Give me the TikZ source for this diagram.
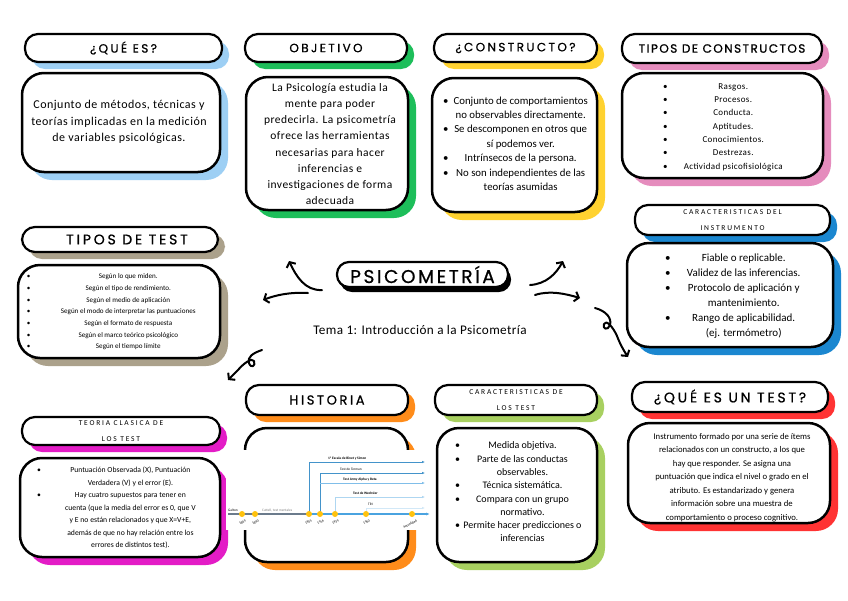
\documentclass[tikz,border=0pt]{standalone}
\usepackage{fontspec}
\setmainfont{Carlito}
\newfontfamily\titlefont[LetterSpace=20,FakeBold=0.8]{Poppins}
\newfontfamily\titlefontb[LetterSpace=12,FakeBold=0.8]{Poppins}
\newfontfamily\bigtitlefont[LetterSpace=14,FakeBold=0.8]{Poppins}
\newfontfamily\capsfont[LetterSpace=24]{Carlito}
\usetikzlibrary{shadows,arrows.meta}
\definecolor{cqes}{HTML}{9DCFF4}
\definecolor{cobj}{HTML}{1DBE5A}
\definecolor{ccon}{HTML}{FFD230}
\definecolor{ctip}{HTML}{E58CBD}
\definecolor{ctest}{HTML}{ABA18B}
\definecolor{cins}{HTML}{1B87D0}
\definecolor{cteo}{HTML}{E31CC6}
\definecolor{chis}{HTML}{FF8C1A}
\definecolor{ccar}{HTML}{A8D060}
\definecolor{cque}{HTML}{FF3333}
\definecolor{tlgray}{HTML}{6B7B8C}
\definecolor{tlblue}{HTML}{4AA3E0}
\definecolor{tldot}{HTML}{FFC20E}
\newcommand\bitem[2]{\hbox to #1{\textbullet\hfil #2\hfil}}
\newcommand\bcont[2]{\hbox to #1{\phantom{\textbullet}\hfil #2\hfil}}
\tikzset{
  pill/.style={draw, line width=2.2pt, rounded corners=13pt, fill=white, inner sep=0pt, align=center,
    drop shadow={shadow xshift=7pt, shadow yshift=-7pt, fill=#1, opacity=1}},
  panel/.style={draw, line width=2.5pt, rounded corners=22pt, fill=white, inner sep=0pt,
    drop shadow={shadow xshift=8pt, shadow yshift=-8pt, fill=#1, opacity=1}},
  ttl/.style={font=\titlefont\fontsize{12}{14}\selectfont},
  ttlb/.style={font=\titlefont\fontsize{14}{16}\selectfont},
  capttl/.style={font=\capsfont\fontsize{7.5}{16}\selectfont},
  bodytxt/.style={align=center, inner sep=0pt},
  curvy/.style={line width=2pt, line cap=round, line join=round, -{Straight Barb[length=4pt,width=10pt,line width=2pt]}},
  tlab/.style={inner sep=0pt, font=\fontsize{3.5}{4}\selectfont}
}
\begin{document}
\begin{tikzpicture}[x=1pt,y=-1pt]
\useasboundingbox[fill=white] (0,0) rectangle (848,600);

% ---- ¿QUÉ ES?
\node[pill=cqes, minimum width=197pt, minimum height=28pt, ttl] (p1) at (123.5,48) {¿QUÉ ES?};
\node[panel=cqes, minimum width=198pt, minimum height=99pt] (b1) at (121,122.5) {};
\node[bodytxt, font=\fontsize{12}{16.5}\selectfont\addfontfeatures{LetterSpace=4}] (t1) at (119,122) {Conjunto de métodos, técnicas y\\teorías implicadas en la medición\\de variables psicológicas.};

% ---- OBJETIVO
\node[pill=cobj, minimum width=162pt, minimum height=28pt, ttl] (p2) at (326,48) {OBJETIVO};
\node[panel=cobj, minimum width=162pt, minimum height=133pt] (b2) at (327,143.5) {};
\node[bodytxt, font=\fontsize{11.5}{16.1}\selectfont\addfontfeatures{LetterSpace=4}] (t2) at (330,144) {La Psicología estudia la\\mente para poder\\predecirla. La psicometría\\ofrece las herramientas\\necesarias para hacer\\inferencias e\\investigaciones de forma\\adecuada};

% ---- ¿CONSTRUCTO?
\node[pill=ccon, minimum width=163pt, minimum height=28pt, ttl] (p3) at (515.5,48) {¿CONSTRUCTO?};
\node[panel=ccon, minimum width=165pt, minimum height=134pt] (b3) at (514.5,145) {};
\node[bodytxt, font=\fontsize{10.8}{14.4}\selectfont] (t3) at (518,143.5) {\bitem{150pt}{Conjunto de comportamientos}\\\bcont{150pt}{no observables directamente.}\\\bitem{150pt}{Se descomponen en otros que}\\\bcont{150pt}{sí podemos ver.}\\\bitem{150pt}{Intrínsecos de la persona.}\\\bitem{150pt}{No son independientes de las}\\\bcont{150pt}{teorías asumidas}};

% ---- TIPOS DE CONSTRUCTOS
\node[pill=ctip, minimum width=200pt, minimum height=29pt, font=\titlefontb\fontsize{12}{14}\selectfont] (p4) at (722,48.5) {TIPOS DE CONSTRUCTOS};
\node[panel=ctip, minimum width=201pt, minimum height=105pt] (b4) at (722.5,125.5) {};
\node[bodytxt, font=\fontsize{9}{13.3}\selectfont\addfontfeatures{LetterSpace=4}] (t4) at (731,127) {\bitem{136pt}{Rasgos.}\\\bitem{136pt}{Procesos.}\\\bitem{136pt}{Conducta.}\\\bitem{136pt}{Aptitudes.}\\\bitem{136pt}{Conocimientos.}\\\bitem{136pt}{Destrezas.}\\\bitem{136pt}{Actividad psicofisiológica}};

% ---- TIPOS DE TEST
\node[pill=ctest, minimum width=196pt, minimum height=25pt, ttlb] (p5) at (120,239.5) {\hspace*{14pt}TIPOS DE TEST};
\node[panel=ctest, minimum width=202pt, minimum height=93pt] (b5) at (119,311.5) {};
\node[bodytxt, font=\fontsize{7.1}{11.7}\selectfont] (t5) at (126.5,312) {\bitem{199pt}{Según lo que miden.}\\\bitem{199pt}{Según el tipo de rendimiento.}\\\bitem{199pt}{Según el medio de aplicación}\\\bitem{199pt}{Según el modo de interpretar las puntuaciones}\\\bitem{199pt}{Según el formato de respuesta}\\\bitem{199pt}{Según el marco teórico psicológico}\\\bitem{199pt}{Según el tiempo límite}};

% ---- PSICOMETRÍA (centre)
\node[draw, line width=2.2pt, rounded corners=12pt, fill=white, inner sep=0pt,
      minimum width=171pt, minimum height=25pt,
      drop shadow={shadow xshift=3pt, shadow yshift=-5pt, fill=black, opacity=1},
      font=\bigtitlefont\fontsize{18.5}{20}\selectfont] (pc) at (422.5,274.5) {PSICOMETRÍA};
\node[bodytxt, font=\fontsize{13.2}{15}\selectfont\addfontfeatures{LetterSpace=3}] (sub) at (420,330) {Tema 1: Introducción a la Psicometría};

% ---- CARACTERISTICAS DEL INSTRUMENTO
\node[pill=cins, minimum width=195pt, minimum height=30pt, capttl] (p6) at (732.5,220) {CARACTERISTICAS DEL\\INSTRUMENTO};
\node[panel=cins, minimum width=206pt, minimum height=104pt] (b6) at (730,295) {};
\node[bodytxt, font=\fontsize{11}{15}\selectfont] (t6) at (741,296) {\bitem{152pt}{Fiable o replicable.}\\\bitem{152pt}{Validez de las inferencias.}\\\bitem{152pt}{Protocolo de aplicación y}\\\bcont{152pt}{mantenimiento.}\\\bitem{152pt}{Rango de aplicabilidad.}\\\bcont{152pt}{(ej. termómetro)}};

% ---- TEORIA CLASICA DE LOS TEST
\node[pill=cteo, minimum width=198pt, minimum height=28pt, capttl] (p7) at (121,431) {TEORIA CLASICA DE\\LOS TEST};
\node[panel=cteo, minimum width=200pt, minimum height=99pt] (b7) at (120,507.5) {};
\node[bodytxt, font=\fontsize{7.7}{12.5}\selectfont] (t7) at (128.5,508) {\bitem{183pt}{Puntuación Observada (X), Puntuación}\\\bcont{183pt}{Verdadera (V) y el error (E).}\\\bitem{183pt}{Hay cuatro supuestos para tener en}\\\bcont{183pt}{cuenta (que la media del error es 0, que V}\\\bcont{183pt}{y E no están relacionados y que X=V+E,}\\\bcont{183pt}{además de que no hay relación entre los}\\\bcont{183pt}{errores de distintos test).}};

% ---- HISTORIA
\node[pill=chis, minimum width=162pt, minimum height=30pt, font=\titlefont\fontsize{13}{15}\selectfont] (p8) at (327,400) {HISTORIA};
\node[panel=chis, minimum width=163pt, minimum height=134pt] (b8) at (326.5,495) {};
% timeline picture
\fill[white] (226,450) rectangle (432,530);
\draw[tlgray, line width=1.3pt] (228,514) -- (309,514);
\draw[tlblue, line width=1.3pt, -{Latex[length=4pt,width=3pt]}] (309,514) -- (430,514);
\draw[tlblue!90!black, line width=0.9pt, -{Latex[length=3pt,width=2.5pt]}] (309,514) |- (425,462);
\draw[tlblue!90!black, line width=0.9pt, -{Latex[length=3pt,width=2.5pt]}] (320,514) |- (425,473);
\draw[tlblue!70, line width=0.9pt, -{Latex[length=3pt,width=2.5pt]}] (320,483) -- (425,483);
\draw[tlblue!45, line width=0.9pt, -{Latex[length=3pt,width=2.5pt]}] (335,514) |- (425,497);
\draw[tlblue!25, line width=0.9pt, -{Latex[length=3pt,width=2.5pt]}] (366,514) |- (425,508);
\foreach \xx in {242,255,309,320,335,366,412} \fill[tldot] (\xx,514) circle (3pt);
\node[tlab, anchor=south west] (h1) at (328,460) {\textbf{1ª Escala de Binet y Simon}};
\node[tlab, anchor=south west] (h2) at (340,471) {Test de Terman};
\node[tlab, anchor=south west] (h3) at (343,481) {\textbf{Test Army Alpha y Beta}};
\node[tlab, anchor=south west] (h4) at (353,495) {\textbf{Test de Wechsler}};
\node[tlab, anchor=south west] (h5) at (368,506) {TRI};
\node[tlab, anchor=south west] (h6) at (228,512) {Galton};
\node[tlab, anchor=south west, gray] (h7) at (262,512) {Cattell, test mentales};
\node[tlab, rotate=30, anchor=north east] (y1) at (245,519) {1869};
\node[tlab, rotate=30, anchor=north east] (y2) at (258,519) {1890};
\node[tlab, rotate=30, anchor=north east] (y3) at (311,519) {1905};
\node[tlab, rotate=30, anchor=north east] (y4) at (323,519) {1916};
\node[tlab, rotate=30, anchor=north east] (y5) at (338,519) {1939};
\node[tlab, rotate=30, anchor=north east] (y6) at (369,519) {1960};
\node[tlab, rotate=30, anchor=north east] (y7) at (416,519) {Actualidad};

% ---- CARACTERISTICAS DE LOS TEST
\node[pill=ccar, minimum width=162pt, minimum height=30pt, capttl] (p9) at (516,400) {CARACTERISTICAS DE\\LOS TEST};
\node[panel=ccar, minimum width=160pt, minimum height=134pt] (b9) at (517,495) {};
\node[bodytxt, font=\fontsize{10}{13.3}\selectfont] (t9) at (520,492) {\bitem{130pt}{Medida objetiva.}\\\bitem{130pt}{Parte de las conductas}\\\bcont{130pt}{observables.}\\\bitem{130pt}{Técnica sistemática.}\\\bitem{130pt}{Compara con un grupo}\\\bcont{130pt}{normativo.}\\\bitem{130pt}{Permite hacer predicciones o}\\\bcont{130pt}{inferencias}};

% ---- ¿QUÉ ES UN TEST?
\node[pill=cque, minimum width=196pt, minimum height=30pt, ttlb] (p10) at (730,397) {¿QUÉ ES UN TEST?};
\node[panel=cque, minimum width=202pt, minimum height=100pt] (b10) at (729,473) {};
\node[bodytxt, font=\fontsize{8.7}{13.5}\selectfont] (t10) at (732,477.5) {Instrumento formado por una serie de ítems\\relacionados con un constructo, a los que\\hay que responder. Se asigna una\\puntuación que indica el nivel o grado en el\\atributo. Es estandarizado y genera\\información sobre una muestra de\\comportamiento o proceso cognitivo.};

% ---- curly arrows around the centre
\coordinate (a1s) at (322,290); \coordinate (a1e) at (289,261);
\coordinate (a2s) at (308,293); \coordinate (a2e) at (263,300);
\coordinate (a3s) at (530,285); \coordinate (a3e) at (563,261);
\coordinate (a4s) at (535,295); \coordinate (a4e) at (580,298);
\coordinate (a5s) at (595,308); \coordinate (a5e) at (628,357);
\coordinate (a6s) at (262,350); \coordinate (a6e) at (228,380);
\draw[curvy] (a1s) .. controls (305,291) and (296,276) .. (a1e);
\draw[curvy] (a2s) .. controls (290,292) and (276,295) .. (a2e);
\draw[curvy] (a3s) .. controls (546,284) and (556,274) .. (a3e);
\draw[curvy] (a4s) .. controls (550,290) and (566,294) .. (a4e);
\draw[curvy] (a5s) .. controls (606,311) and (612,318) .. (610,325) .. controls (608,331) and (602,329) .. (604,324) .. controls (606,319) and (613,327) .. (617,336) .. controls (620,344) and (624,351) .. (a5e);
\draw[curvy] (a6s) .. controls (253,353) and (247,357) .. (249,363) .. controls (251,369) and (256,366) .. (254,361) .. controls (252,357) and (243,364) .. (238,370) .. controls (234,374) and (231,377) .. (a6e);
\end{tikzpicture}
\end{document}
